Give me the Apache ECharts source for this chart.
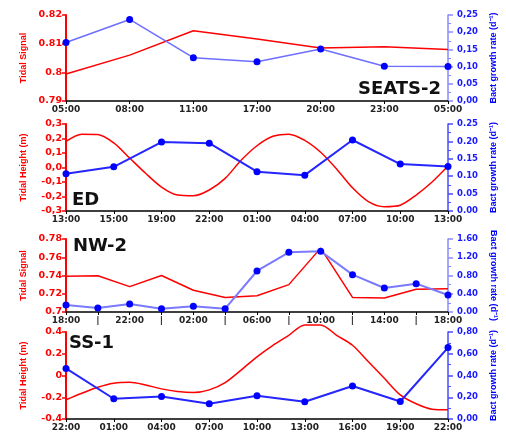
<!DOCTYPE html>
<html>
<head>
<meta charset="utf-8">
<script src="https://cdn.jsdelivr.net/npm/echarts@6/dist/echarts.min.js"></script>
<style>html,body{margin:0;padding:0;background:#fff;}#c{width:506px;height:446px;}</style>
</head>
<body>
<div id="c"></div>
<script>
// Panel 1: SEATS-2
const p1Labels = ['05:00','08:00','11:00','17:00','20:00','23:00','05:00'];
const p1Tidal = [0.7994, 0.806, 0.8145, 0.8116, 0.8085, 0.8089, 0.808];
const p1Bact = [0.170, 0.237, 0.126, 0.114, 0.151, 0.101, 0.100];

// Panel 2: ED (tidal sampled at thirds of each label interval)
const p2Labels = ['13:00','15:00','19:00','22:00','01:00','04:00','07:00','10:00','13:00'];
const p2Tidal = [0.18, 0.23, 0.228, 0.17, 0.065, -0.04, -0.135, -0.19, -0.195, -0.155, -0.075, 0.05,
  0.15, 0.215, 0.23, 0.187, 0.105, -0.01, -0.14, -0.235, -0.27, -0.26, -0.19, -0.1, 0.01];
const p2Bact = [0.107, 0.127, 0.198, 0.195, 0.113, 0.103, 0.204, 0.135, 0.128];

// Panel 3: NW-2
const p3Labels = ['18:00','|','22:00','|','02:00','|','06:00','|','10:00','|','14:00','|','18:00'];
const p3Tidal = [0.7391, 0.7398, 0.7278, 0.740, 0.7238, 0.716, 0.7178, 0.730, 0.770, 0.716, 0.7153, 0.725, 0.7256];
const p3Bact = [0.153, 0.088, 0.175, 0.073, 0.124, 0.073, 0.899, 1.308, 1.33, 0.818, 0.526, 0.621, 0.373];

// Panel 4: SS-1 (tidal sampled at thirds of each label interval)
const p4Labels = ['22:00','01:00','04:00','07:00','10:00','13:00','16:00','19:00','22:00'];
const p4Tidal = [-0.223, -0.163, -0.108, -0.071, -0.062, -0.087, -0.123, -0.147, -0.157, -0.132, -0.065, 0.05,
  0.172, 0.278, 0.37, 0.465, 0.465, 0.37, 0.278, 0.126, -0.026, -0.178, -0.26, -0.31, -0.315];
const p4Bact = [0.465, 0.186, 0.207, 0.14, 0.213, 0.158, 0.304, 0.161, 0.657];

const titles = ['SEATS-2', 'ED', 'NW-2', 'SS-1'];

const TF = 'DejaVu Sans';
const NF = 'Liberation Sans';
const RED = '#ff0000';

const grids = [
  {left: 66, right: 52, top: 15, height: 86},
  {left: 66, right: 52, top: 124, height: 87},
  {left: 66, right: 52, top: 239, height: 73},
  {left: 66, right: 52, top: 332, height: 87}
];

function idx(arr, step) { return arr.map((v, i) => [i * step, v]); }

function xAx(g, labels) {
  return {
    type: 'value', gridIndex: g, min: 0, max: labels.length - 1, interval: 1,
    axisLine: {show: true, onZero: false, lineStyle: {color: '#000', width: 1.5}},
    axisTick: {show: true, length: 3, lineStyle: {color: '#000'}},
    splitLine: {show: false},
    axisLabel: {formatter: v => labels[Math.round(v)] || '', fontFamily: TF, fontWeight: 'bold', fontSize: 9, color: '#222', margin: 4}
  };
}
function yLeft(g, min, max, interval, name, fmt) {
  return {
    type: 'value', gridIndex: g, position: 'left', min, max, interval,
    name, nameLocation: 'middle', nameGap: 38, nameRotate: 90,
    nameTextStyle: {color: RED, fontFamily: NF, fontWeight: 'bold', fontSize: 9},
    axisLine: {show: true, lineStyle: {color: RED, width: 2}},
    axisTick: {show: true, length: 4, lineStyle: {color: RED, width: 1.5}},
    splitLine: {show: false},
    axisLabel: {color: RED, fontFamily: TF, fontWeight: 'bold', fontSize: 9.5, margin: 4, formatter: fmt}
  };
}
function yRight(g, min, max, interval, fmt, axisColor, rot) {
  return {
    type: 'value', gridIndex: g, position: 'right', min, max, interval,
    name: 'Bact growth rate (d\u207B\u00B9)', nameLocation: 'middle', nameGap: 41, nameRotate: rot,
    nameTextStyle: {color: '#0000ff', fontFamily: NF, fontWeight: 'bold', fontSize: 9},
    axisLine: {show: true, lineStyle: {color: axisColor, width: 1.5}},
    axisTick: {show: true, length: 5, lineStyle: {color: axisColor, width: 1.5}},
    minorTick: {show: true, splitNumber: 2, length: 3, lineStyle: {color: axisColor}},
    splitLine: {show: false}, minorSplitLine: {show: false},
    axisLabel: {color: '#1a1aff', fontFamily: TF, fontWeight: 'bold', fontSize: 8.5, margin: 9, formatter: fmt}
  };
}
const comma = d => v => v.toFixed(d).replace('.', ',');
const dot = d => v => v.toFixed(d);

function redS(g, data, smooth) {
  return {type: 'line', xAxisIndex: g, yAxisIndex: g * 2, data, symbol: 'none', smooth: smooth ? 0.3 : false,
    clip: false, lineStyle: {color: RED, width: 1.5}, z: 2, animation: false};
}
function blueS(g, data, lineColor, width) {
  return {type: 'line', xAxisIndex: g, yAxisIndex: g * 2 + 1, data, symbol: 'circle', symbolSize: 7,
    clip: false, itemStyle: {color: '#0000ff'}, lineStyle: {color: lineColor, width}, z: 3, animation: false};
}

const option = {
  animation: false,
  backgroundColor: '#fff',
  grid: grids,
  xAxis: [xAx(0, p1Labels), xAx(1, p2Labels), xAx(2, p3Labels), xAx(3, p4Labels)],
  yAxis: [
    yLeft(0, 0.79, 0.82, 0.01, 'Tidal Signal'),
    yRight(0, 0, 0.25, 0.05, comma(2), '#8a8aff', 90),
    yLeft(1, -0.3, 0.3, 0.1, 'Tidal Height (m)', comma(1)),
    yRight(1, 0, 0.25, 0.05, dot(2), '#4a4aff', 90),
    yLeft(2, 0.70, 0.78, 0.02, 'Tidal Signal'),
    yRight(2, 0, 1.6, 0.4, dot(2), '#8a8aff', -90),
    yLeft(3, -0.4, 0.4, 0.2, 'Tidal Height (m)'),
    yRight(3, 0, 0.8, 0.2, comma(2), '#4a4aff', 90)
  ],
  series: [
    redS(0, idx(p1Tidal, 1), false), blueS(0, idx(p1Bact, 1), '#6e6eff', 1.5),
    redS(1, idx(p2Tidal, 1/3), true), blueS(1, idx(p2Bact, 1), '#2525ff', 2),
    redS(2, idx(p3Tidal, 1), false), blueS(2, idx(p3Bact, 1), '#7a7aff', 2),
    redS(3, idx(p4Tidal, 1/3), true), blueS(3, idx(p4Bact, 1), '#2525ff', 2)
  ],
  graphic: [
    {type: 'text', left: 358, top: 80, style: {text: titles[0], font: 'bold 18px "DejaVu Sans"', fill: '#111'}},
    {type: 'text', left: 72, top: 191, style: {text: titles[1], font: 'bold 18px "DejaVu Sans"', fill: '#111'}},
    {type: 'text', left: 73, top: 237, style: {text: titles[2], font: 'bold 18px "DejaVu Sans"', fill: '#111'}},
    {type: 'text', left: 69, top: 334, style: {text: titles[3], font: 'bold 18px "DejaVu Sans"', fill: '#111'}}
  ]
};
const chart = echarts.init(document.getElementById('c'), null, {renderer: 'canvas'});
chart.setOption(option);
</script>
</body>
</html>
